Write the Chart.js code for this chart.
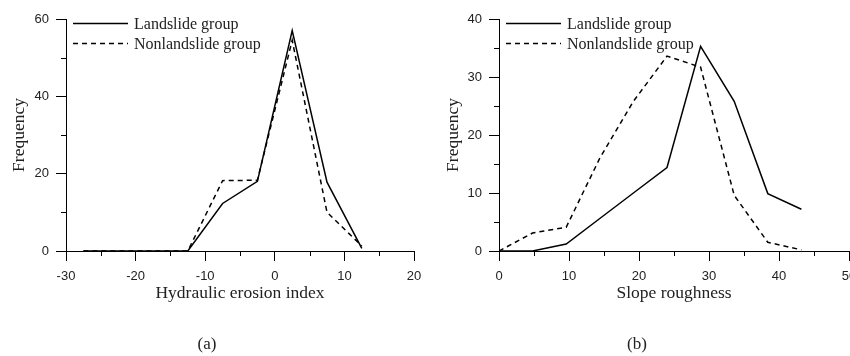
<!DOCTYPE html>
<html>
<head>
<meta charset="utf-8">
<script src="https://cdn.jsdelivr.net/npm/chart.js@4.4.0/dist/chart.umd.min.js"></script>
<style>
  html, body { margin: 0; padding: 0; background: #fff; }
  #wrap { position: relative; width: 850px; height: 356px; }
  .panel { position: absolute; top: 0; width: 425px; height: 356px; }
</style>
</head>
<body>
<div id="wrap">
  <div class="panel" style="left:0"><canvas id="chartA" width="425" height="356"></canvas></div>
  <div class="panel" style="left:425px"><canvas id="chartB" width="425" height="356"></canvas></div>
</div>
<script>
// (a) Hydraulic erosion index
var erosionX = [-27.5, -22.5, -17.5, -12.5, -7.5, -2.5, 2.5, 7.5, 12.5];
var erosionLandslide = [0, 0, 0, 0, 12.3, 18, 57, 17.8, 0.7];
var erosionNonlandslide = [0, 0, 0, 0, 18.2, 18.3, 54.5, 10, 1.3];

// (b) Slope roughness
var roughX = [0, 4.8, 9.6, 14.4, 19.2, 24, 28.8, 33.6, 38.4, 43.2];
var roughLandslide = [0, 0, 1.2, 5.6, 10, 14.4, 35.3, 25.8, 9.9, 7.2];
var roughNonlandslide = [0, 3.1, 4.1, 16, 25.8, 33.6, 31.7, 9.6, 1.5, 0.2];

var seriesNames = ["Landslide group", "Nonlandslide group"];

var serif = "'Liberation Serif', 'Times New Roman', serif";
var sans = "'Liberation Sans', Arial, sans-serif";

function points(xs, ys) {
  return xs.map(function (x, i) { return { x: x, y: ys[i] }; });
}

// legend drawn inside the plot, top-left
var legendLines = {
  id: "legendLines",
  afterDatasetsDraw: function (chart) {
    var ctx = chart.ctx, a = chart.chartArea;
    chart.data.datasets.forEach(function (ds, i) {
      var y = Math.round(a.top + 4 + i * 20) + 0.5;
      ctx.save();
      ctx.strokeStyle = ds.borderColor;
      ctx.lineWidth = ds.borderWidth;
      ctx.setLineDash(ds.borderDash || []);
      ctx.beginPath();
      ctx.moveTo(a.left + 7, y);
      ctx.lineTo(a.left + 62, y);
      ctx.stroke();
      ctx.setLineDash([]);
      ctx.fillStyle = "#222";
      ctx.font = "16px " + serif;
      ctx.textBaseline = "middle";
      ctx.fillText(ds.label, a.left + 68, y + 1);
      ctx.restore();
    });
  }
};

// short unlabeled ticks halfway between the major ones
var minorTicks = {
  id: "minorTicks",
  afterDraw: function (chart) {
    var ctx = chart.ctx;
    ctx.save();
    ctx.strokeStyle = "#000";
    ctx.lineWidth = 1;
    ["x", "y"].forEach(function (id) {
      var s = chart.scales[id];
      var step = s.options.ticks.stepSize / 2;
      for (var v = s.min + step; v < s.max; v += 2 * step) {
        var p = Math.round(s.getPixelForValue(v)) + 0.5;
        ctx.beginPath();
        if (id === "x") { ctx.moveTo(p, s.top); ctx.lineTo(p, s.top + 5); }
        else { ctx.moveTo(s.right, p); ctx.lineTo(s.right - 5, p); }
        ctx.stroke();
      }
    });
    ctx.restore();
  }
};

function makeChart(id, o) {
  return new Chart(document.getElementById(id), {
    type: "line",
    data: {
      datasets: [
        {
          label: seriesNames[0],
          data: points(o.xs, o.landslide),
          borderColor: "#000",
          borderWidth: 1.5,
          pointRadius: 0,
          tension: 0,
        },
        {
          label: seriesNames[1],
          data: points(o.xs, o.nonlandslide),
          borderColor: "#000",
          borderWidth: 1.5,
          borderDash: [5, 4],
          pointRadius: 0,
          tension: 0,
        },
      ],
    },
    options: {
      responsive: false,
      animation: false,
      events: [],
      layout: {
        padding: { left: 0, right: o.padRight, top: 19, bottom: 0 },
      },
      plugins: {
        legend: { display: false },
        tooltip: { enabled: false },
        title: {
          display: true,
          position: "bottom",
          text: o.caption,
          color: "#222",
          font: { family: serif, size: 17, weight: "normal" },
          padding: { top: 31.1, bottom: 1 },
        },
      },
      scales: {
        x: {
          type: "linear",
          min: o.xMin,
          max: o.xMax,
          afterFit: function (s) { s.height = 52.5; s.paddingLeft = 0; s.paddingRight = 0; },
          border: { display: true, color: "#000", width: 1 },
          grid: { drawOnChartArea: false, tickLength: 10, tickColor: "#000" },
          ticks: {
            stepSize: 10,
            autoSkip: false,
            maxRotation: 0,
            padding: 8,
            color: "#222",
            font: { family: sans, size: 13 },
          },
          title: {
            display: true,
            text: o.xTitle,
            color: "#222",
            font: { family: serif, size: 17.5 },
            padding: { top: 0, bottom: 0 },
          },
        },
        y: {
          min: 0,
          max: o.yMax,
          afterFit: function (s) { s.width = o.yWidth; s.paddingTop = 0; s.paddingBottom = 0; },
          border: { display: true, color: "#000", width: 1 },
          grid: { drawOnChartArea: false, tickLength: 10, tickColor: "#000" },
          ticks: {
            stepSize: o.yStep,
            autoSkip: false,
            padding: 7,
            color: "#222",
            font: { family: sans, size: 13 },
          },
          title: {
            display: true,
            text: "Frequency",
            color: "#222",
            font: { family: serif, size: 17.5 },
            padding: { top: o.yTitlePad, bottom: 0 },
          },
        },
      },
    },
    plugins: [legendLines, minorTicks],
  });
}

var chartA = makeChart("chartA", {
  xs: erosionX,
  landslide: erosionLandslide,
  nonlandslide: erosionNonlandslide,
  xMin: -30, xMax: 20,
  yMax: 60, yStep: 20,
  yWidth: 66, yTitlePad: 8.5, padRight: 11,
  xTitle: "Hydraulic erosion index",
  caption: "(a)",
});

var chartB = makeChart("chartB", {
  xs: roughX,
  landslide: roughLandslide,
  nonlandslide: roughNonlandslide,
  xMin: 0, xMax: 50,
  yMax: 40, yStep: 10,
  yWidth: 74, yTitlePad: 18, padRight: 1,
  xTitle: "Slope roughness",
  caption: "(b)",
});
</script>
</body>
</html>
